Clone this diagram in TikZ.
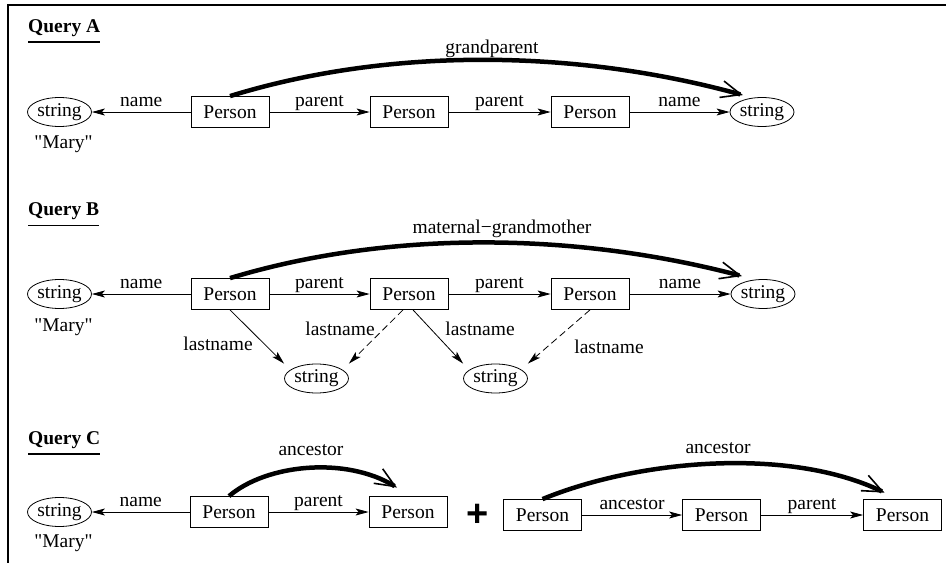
\documentclass[tikz,border=0pt]{standalone}
\usepackage{fontspec}
\setmainfont{Liberation Serif}[Ligatures=TeXOff]
\newfontfamily\plusfont{Liberation Sans}
\usetikzlibrary{arrows.meta,shapes.geometric,calc}
\begin{document}
\begin{tikzpicture}[x=1pt,y=-1pt,
  every node/.style={font=\fontsize{19.5}{22}\selectfont, inner sep=0pt},
  box/.style={draw, line width=0.8pt, minimum width=78pt, minimum height=31pt},
  str/.style={draw, ellipse, line width=0.8pt, minimum width=64pt, minimum height=29pt},
  arr/.style={line width=0.8pt, -{Stealth[length=13pt,width=7pt,inset=3pt]}},
  darr/.style={arr, dash pattern=on 7pt off 4pt},
  big/.style={line width=4.5pt, -{Straight Barb[length=20pt,width=17pt,line width'=1.6pt]}},
  lbl/.style={anchor=base, yshift=6pt},
  txt/.style={anchor=base},
  qtitle/.style={anchor=base west, font=\fontsize{19.5}{22}\selectfont\bfseries},
  uline/.style={line width=1.4pt}]
\useasboundingbox (0,0) rectangle (946,563);
\draw[line width=1.6pt] (946,5) -- (8,5) -- (8,563);

% ---------- Query A
\node[qtitle] (qA) at (28,32) {Query A};
\draw[uline] ([yshift=-10pt]qA.base west) -- ([yshift=-10pt]qA.base east);
\node[str] (sA0) at (59.5,112) {string};
\node[txt] (mA) at (63.5,148) {"Mary"};
\node[box] (pA1) at (230,112) {Person};
\node[box] (pA2) at (409,112) {Person};
\node[box] (pA3) at (590,112) {Person};
\node[str] (sA4) at (762,112) {string};
\draw[arr] (pA1) -- node[lbl] (lA1) {name} (sA0);
\draw[arr] (pA1) -- node[lbl] (lA2) {parent} (pA2);
\draw[arr] (pA2) -- node[lbl] (lA3) {parent} (pA3);
\draw[arr] (pA3) -- node[lbl] (lA4) {name} (sA4);
\node[txt] (gA) at (492,53) {grandparent};
\draw[big] (pA1.north) .. controls (391.9,46.2) and (578.8,49.8) .. ([xshift=-19pt,yshift=2pt]sA4.north);

% ---------- Query B
\node[qtitle] (qB) at (28,215.5) {Query B};
\draw[uline] ([yshift=-10pt]qB.base west) -- ([yshift=-10pt]qB.base east);
\node[str] (sB0) at (59.5,294) {string};
\node[txt] (mB) at (63.5,331) {"Mary"};
\node[box] (pB1) at (230,294) {Person};
\node[box] (pB2) at (409,294) {Person};
\node[box] (pB3) at (590,294) {Person};
\node[str] (sB4) at (763,294) {string};
\node[str] (sB5) at (316.5,378.5) {string};
\node[str] (sB6) at (495.5,378.5) {string};
\draw[arr] (pB1) -- node[lbl] (lB1) {name} (sB0);
\draw[arr] (pB1) -- node[lbl] (lB2) {parent} (pB2);
\draw[arr] (pB2) -- node[lbl] (lB3) {parent} (pB3);
\draw[arr] (pB3) -- node[lbl] (lB4) {name} (sB4);
\draw[arr] (pB1.south) -- (sB5.west |- sB5.north);
\draw[darr] ([xshift=-6pt]pB2.south) -- (sB5.east |- sB5.north);
\draw[arr] ([xshift=4pt]pB2.south) -- (sB6.west |- sB6.north);
\draw[darr] (pB3.south) -- (sB6.east |- sB6.north);
\node[txt] (lB5) at (218,350) {lastname};
\node[txt] (lB6) at (340,335) {lastname};
\node[txt] (lB7) at (480,335) {lastname};
\node[txt] (lB8) at (609,353) {lastname};
\node[txt] (gB) at (502,233) {maternal−grandmother};
\draw[big] (pB1.north) .. controls (391.9,229.2) and (578,232.8) .. ([xshift=-21pt,yshift=3pt]sB4.north);

% ---------- Query C
\node[qtitle] (qC) at (28,444) {Query C};
\draw[uline] ([yshift=-10pt]qC.base west) -- ([yshift=-10pt]qC.base east);
\node[str] (sC0) at (59.5,512) {string};
\node[txt] (mC) at (63.5,547) {"Mary"};
\node[box] (pC1) at (229,512) {Person};
\node[box] (pC2) at (408,512) {Person};
\draw[arr] (pC1) -- node[lbl] (lC1) {name} (sC0);
\draw[arr] (pC1) -- node[lbl] (lC2) {parent} (pC2);
\node[txt] (aC1) at (311,455) {ancestor};
\draw[big] (pC1.north) .. controls (266.5,464) and (346,456.2) .. ([xshift=-11pt,yshift=8.5pt]pC2.north);

\node (plus) at (478,515) {\plusfont\fontsize{38}{40}\selectfont\bfseries +};

\node[box] (pR1) at (542.5,515) {Person};
\node[box] (pR2) at (721.5,515) {Person};
\node[box] (pR3) at (902.5,515) {Person};
\draw[arr] (pR1) -- node[lbl] (lR1) {ancestor} (pR2);
\draw[arr] (pR2) -- node[lbl] (lR2) {parent} (pR3);
\node[txt] (aR) at (718,453) {ancestor};
\draw[big] (pR1.north) .. controls (639.7,459.2) and (789.5,446.8) .. ([xshift=-18pt,yshift=6.5pt]pR3.north);
\end{tikzpicture}
\end{document}
